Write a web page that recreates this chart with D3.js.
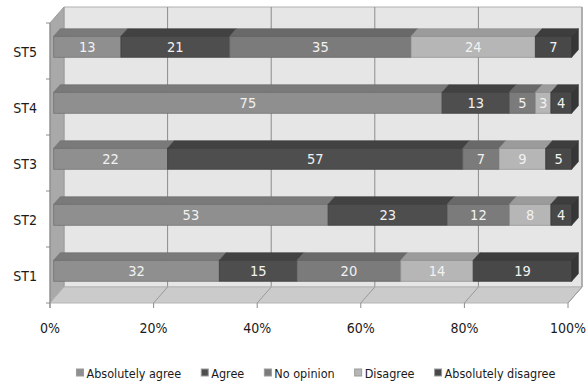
<!DOCTYPE html>
<html>
<head>
<meta charset="utf-8">
<script src="https://cdn.jsdelivr.net/npm/d3@7"></script>
<style>
  html, body { margin: 0; padding: 0; background: #fff; }
  svg { display: block; }
  text { font-family: "DejaVu Sans Condensed", "DejaVu Sans", sans-serif; font-stretch: condensed; }
</style>
</head>
<body>
<svg id="chart" width="588" height="385"></svg>
<script>
// ---- data ----
const categories = ["ST5", "ST4", "ST3", "ST2", "ST1"];
const seriesNames = ["Absolutely agree", "Agree", "No opinion", "Disagree", "Absolutely disagree"];
const absolutelyAgree    = [13, 75, 22, 53, 32];
const agree              = [21, 13, 57, 23, 15];
const noOpinion          = [35, 5, 7, 12, 20];
const disagree           = [24, 3, 9, 8, 14];
const absolutelyDisagree = [7, 4, 5, 4, 19];
const xTicks = [0, 20, 40, 60, 80, 100];
const xTickLabels = ["0%", "20%", "40%", "60%", "80%", "100%"];

const seriesValues = [absolutelyAgree, agree, noOpinion, disagree, absolutelyDisagree];
const colors = ["#8f8f8f", "#4e4e4e", "#7b7b7b", "#b6b6b6", "#484848"];

// ---- geometry ----
const svg = d3.select("#chart");
const DX = 14, DY = -16;           // full depth vector
const x = d3.scaleLinear().domain([0, 100]).range([50, 568]);
const y = d3.scaleBand().domain(categories).range([23, 303]).paddingInner(0.625).paddingOuter(0.3125);
const bandStep = y.step();
const barD0 = 0.26, barD1 = 0.74;     // bar depth extent

const P = (v, d, yy) => [x(v) + d * DX, yy + d * DY];
const poly = pts => pts.map(p => p.join(",")).join(" ");

const yTop = y.range()[0], yBot = y.range()[1];

// back wall
svg.append("polygon")
  .attr("points", poly([P(0,1,yTop), P(100,1,yTop), P(100,1,yBot), P(0,1,yBot)]))
  .attr("fill", "#e6e6e6").attr("stroke", "#b0b0b0").attr("stroke-width", 1);

// gridlines on back wall
svg.append("g").selectAll("line").data(xTicks.slice(1)).join("line")
  .attr("x1", d => P(d,1,yTop)[0]).attr("x2", d => P(d,1,yBot)[0])
  .attr("y1", P(0,1,yTop)[1]).attr("y2", P(0,1,yBot)[1])
  .attr("stroke", "#8c8c8c").attr("stroke-width", 1);

// left wall
svg.append("polygon")
  .attr("points", poly([P(0,0,yTop), P(0,1,yTop), P(0,1,yBot), P(0,0,yBot)]))
  .attr("fill", "#a9a9a9").attr("stroke", "#9a9a9a").attr("stroke-width", 1);

// floor
svg.append("polygon")
  .attr("points", poly([P(0,0,yBot), P(0,1,yBot), P(100,1,yBot), P(100,0,yBot)]))
  .attr("fill", "#cbcbcb").attr("stroke", "#b5b5b5").attr("stroke-width", 1);

// floor grid lines
svg.append("g").selectAll("line").data(xTicks.slice(1)).join("line")
  .attr("x1", d => P(d,0,yBot)[0]).attr("y1", d => P(d,0,yBot)[1])
  .attr("x2", d => P(d,1,yBot)[0]).attr("y2", d => P(d,1,yBot)[1])
  .attr("stroke", "#9a9a9a").attr("stroke-width", 1);

// x axis ticks (front bottom edge)
const xAxisG = svg.append("g");
xAxisG.selectAll("line").data(xTicks).join("line")
  .attr("x1", d => x(d)).attr("x2", d => x(d))
  .attr("y1", yBot).attr("y2", yBot + 5)
  .attr("stroke", "#8c8c8c");
xAxisG.selectAll("text").data(xTicks).join("text")
  .attr("x", d => x(d)).attr("y", yBot + 30)
  .attr("text-anchor", "middle").attr("font-size", 14).attr("fill", "#1a1a1a")
  .text((d, i) => xTickLabels[i]);

// y axis ticks (front left edge)
const yAxisG = svg.append("g");
yAxisG.append("line").attr("x1", x(0)).attr("x2", x(0)).attr("y1", yTop).attr("y2", yBot + 5).attr("stroke", "#8c8c8c");
yAxisG.selectAll("line.t").data(d3.range(categories.length + 1)).join("line").attr("class", "t")
  .attr("x1", x(0) - 4).attr("x2", x(0))
  .attr("y1", i => yTop + i * bandStep).attr("y2", i => yTop + i * bandStep)
  .attr("stroke", "#8c8c8c");
yAxisG.selectAll("text").data(categories).join("text")
  .attr("x", 37).attr("y", d => y(d) + y.bandwidth() / 2 + 6)
  .attr("text-anchor", "end").attr("font-size", 14).attr("fill", "#1a1a1a")
  .text(d => d);

// stacked bars
const rows = categories.map((c, ci) => {
  let acc = 0;
  return seriesValues.map((vals, si) => {
    const v = vals[ci];
    const seg = { cat: c, s: si, x0: acc, x1: acc + v, v };
    acc += v;
    return seg;
  });
});

const barsG = svg.append("g");
rows.forEach((segs, ci) => {
  const c = categories[ci];
  const y0 = y(c), y1 = y(c) + y.bandwidth();
  segs.forEach((seg, k) => {
    const col = d3.color(colors[seg.s]);
    const g = barsG.append("g");
    // front face
    g.append("polygon")
      .attr("points", poly([P(seg.x0,barD0,y0), P(seg.x1,barD0,y0), P(seg.x1,barD0,y1), P(seg.x0,barD0,y1)]))
      .attr("fill", col.formatHex()).attr("stroke", col.darker(0.6).formatHex()).attr("stroke-width", 0.8);
    // top face
    g.append("polygon")
      .attr("points", poly([P(seg.x0,barD0,y0), P(seg.x0,barD1,y0), P(seg.x1,barD1,y0), P(seg.x1,barD0,y0)]))
      .attr("fill", col.darker(0.45).formatHex()).attr("stroke", col.darker(0.7).formatHex()).attr("stroke-width", 0.6);
    if (k === segs.length - 1) {
      g.append("polygon")
        .attr("points", poly([P(seg.x1,barD0,y0), P(seg.x1,barD1,y0), P(seg.x1,barD1,y1), P(seg.x1,barD0,y1)]))
        .attr("fill", col.darker(0.8).formatHex()).attr("stroke", col.darker(1).formatHex()).attr("stroke-width", 0.6);
    }
    const [cx, cy] = P((seg.x0 + seg.x1) / 2, barD0, (y0 + y1) / 2);
    g.append("text")
      .attr("x", cx).attr("y", cy + 5)
      .attr("text-anchor", "middle").attr("font-size", 14.5).attr("fill", "#f2f2f2")
      .text(seg.v);
  });
});

// legend
const legendG = svg.append("g");
const legY = 373;
const items = legendG.selectAll("g").data(seriesNames).join("g");
items.append("rect").attr("width", 7).attr("height", 7).attr("y", legY - 4)
  .attr("fill", (d, i) => colors[i]).attr("stroke", "#9a9a9a").attr("stroke-width", 1);
items.append("text").attr("x", 10).attr("y", legY + 5)
  .attr("font-size", 12.5).attr("fill", "#1a1a1a").text(d => d);
const widths = [];
items.each(function () { widths.push(this.getBBox().width); });
const gap = 20;
const total = d3.sum(widths) + gap * (widths.length - 1);
let lx = 316 - total / 2;
items.attr("transform", (d, i) => {
  const t = `translate(${lx},0)`;
  lx += widths[i] + gap;
  return t;
});
</script>
</body>
</html>
